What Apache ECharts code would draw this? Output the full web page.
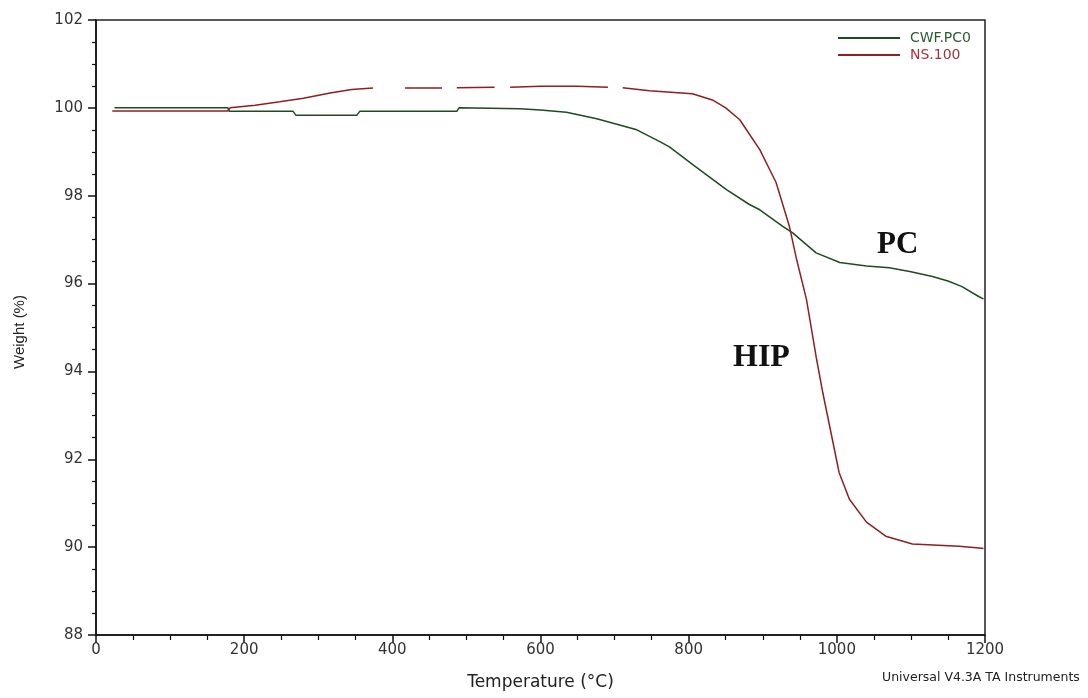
<!DOCTYPE html>
<html>
<head>
<meta charset="utf-8">
<script src="https://cdn.jsdelivr.net/npm/echarts@6/dist/echarts.min.js"></script>
<style>html,body{margin:0;padding:0;background:#fff;}#c{width:1088px;height:698px;}</style>
</head>
<body>
<div id="c"></div>
<script>
// Temperature (°C) and Weight (%)
const xTicks = [0, 200, 400, 600, 800, 1000, 1200];
const yTicks = [88, 90, 92, 94, 96, 98, 100, 102];

const pcTemp = [25, 100, 178, 180, 266, 270, 352, 356, 487, 490, 572, 600, 635, 676, 730, 761, 774, 806, 851, 882, 896, 927, 940, 972, 1004, 1040, 1071, 1100, 1129, 1150, 1169, 1192, 1198];
const pcWeight = [100.0, 100.0, 100.0, 99.92, 99.92, 99.83, 99.83, 99.92, 99.92, 100.0, 99.98, 99.95, 99.9, 99.75, 99.5, 99.23, 99.11, 98.7, 98.14, 97.8, 97.68, 97.3, 97.16, 96.7, 96.48, 96.4, 96.36, 96.27, 96.16, 96.06, 95.93, 95.7, 95.65];

// null weights mark the breaks seen in the NS.100 trace
const hipTemp = [22, 100, 178, 181, 215, 248, 280, 316, 345, 374, 395, 417, 467, 477, 487, 538, 548, 559, 600, 650, 691, 701, 711, 747, 805, 832, 850, 869, 880, 896, 918, 936, 945, 959, 972, 981, 994, 1003, 1017, 1040, 1066, 1102, 1165, 1192, 1198];
const hipWeight = [99.93, 99.93, 99.93, 100.0, 100.06, 100.14, 100.22, 100.34, 100.42, 100.45, null, 100.45, 100.45, null, 100.46, 100.47, null, 100.47, 100.49, 100.49, 100.47, null, 100.46, 100.39, 100.32, 100.18, 100.0, 99.73, 99.45, 99.05, 98.3, 97.3, 96.6, 95.64, 94.34, 93.52, 92.45, 91.7, 91.09, 90.57, 90.25, 90.07, 90.02, 89.98, 89.97];

const seriesNames = ['CWF.PC0', 'NS.100'];
const annotations = ['PC', 'HIP'];

const pcData = pcTemp.map((t, i) => [t, pcWeight[i]]);
const hipData = hipTemp.map((t, i) => [t, hipWeight[i]]);

const GREEN = '#1f4a22';
const RED = '#8e1f22';
const LABEL = '#333333';
const WIDE = '"DejaVu Sans", Verdana, sans-serif';
const SANS = '"Liberation Sans", Arial, sans-serif';
const SERIF = '"Liberation Serif", "Times New Roman", serif';

const chart = echarts.init(document.getElementById('c'), null, {renderer: 'canvas'});
chart.setOption({
  backgroundColor: '#ffffff',
  animation: false,
  grid: {left: 96, right: 103, top: 20, bottom: 63, show: true, borderColor: '#222', borderWidth: 1.5, backgroundColor: 'transparent'},
  legend: {
    orient: 'vertical',
    left: 833,
    top: 26,
    itemWidth: 62,
    itemHeight: 2,
    itemGap: 3,
    icon: 'rect',
    textStyle: {fontFamily: WIDE, fontSize: 14, padding: [0, 0, 0, 5]},
    data: [
      {name: seriesNames[0], textStyle: {color: '#2d5a30'}},
      {name: seriesNames[1], textStyle: {color: '#a3353a'}}
    ]
  },
  xAxis: {
    type: 'value', min: xTicks[0], max: xTicks[xTicks.length - 1], interval: 200,
    axisLine: {lineStyle: {color: '#111', width: 1.5}},
    axisTick: {show: true, length: 8, lineStyle: {color: '#111', width: 1.5}},
    minorTick: {show: true, splitNumber: 4, length: 5, lineStyle: {color: '#111', width: 1.2}},
    splitLine: {show: false},
    axisLabel: {color: LABEL, fontFamily: WIDE, fontSize: 15, margin: 8, formatter: v => String(v)},
    name: 'Temperature (°C)', nameLocation: 'middle', nameGap: 39,
    nameTextStyle: {color: '#222', fontFamily: WIDE, fontSize: 17}
  },
  yAxis: {
    type: 'value', min: yTicks[0], max: yTicks[yTicks.length - 1], interval: 2,
    axisLine: {show: true, lineStyle: {color: '#111', width: 1.5}},
    axisTick: {show: true, length: 8, lineStyle: {color: '#111', width: 1.5}},
    minorTick: {show: true, splitNumber: 4, length: 4, lineStyle: {color: '#111', width: 1.2}},
    splitLine: {show: false},
    axisLabel: {color: LABEL, fontFamily: WIDE, fontSize: 15, margin: 13, formatter: v => String(v)}
  },
  graphic: [
    {type: 'text', x: 20, y: 332, rotation: Math.PI / 2,
     style: {text: 'Weight (%)', fill: '#222', font: '15px ' + SANS, textAlign: 'center', textVerticalAlign: 'middle'}},
    {type: 'text', x: 882, y: 671,
     style: {text: 'Universal V4.3A TA Instruments', fill: '#222', font: '12.5px ' + WIDE}},
    {type: 'text', x: 877, y: 229,
     style: {text: annotations[0], fill: '#111', font: 'bold 31px ' + SERIF}},
    {type: 'text', x: 733, y: 342,
     style: {text: annotations[1], fill: '#111', font: 'bold 32px ' + SERIF}}
  ],
  series: [
    {name: seriesNames[0], type: 'line', data: pcData, showSymbol: false, symbol: 'none',
     lineStyle: {color: GREEN, width: 1.5}, itemStyle: {color: GREEN}},
    {name: seriesNames[1], type: 'line', data: hipData, showSymbol: false, symbol: 'none', connectNulls: false,
     lineStyle: {color: RED, width: 1.5}, itemStyle: {color: RED}}
  ]
});
</script>
</body>
</html>
